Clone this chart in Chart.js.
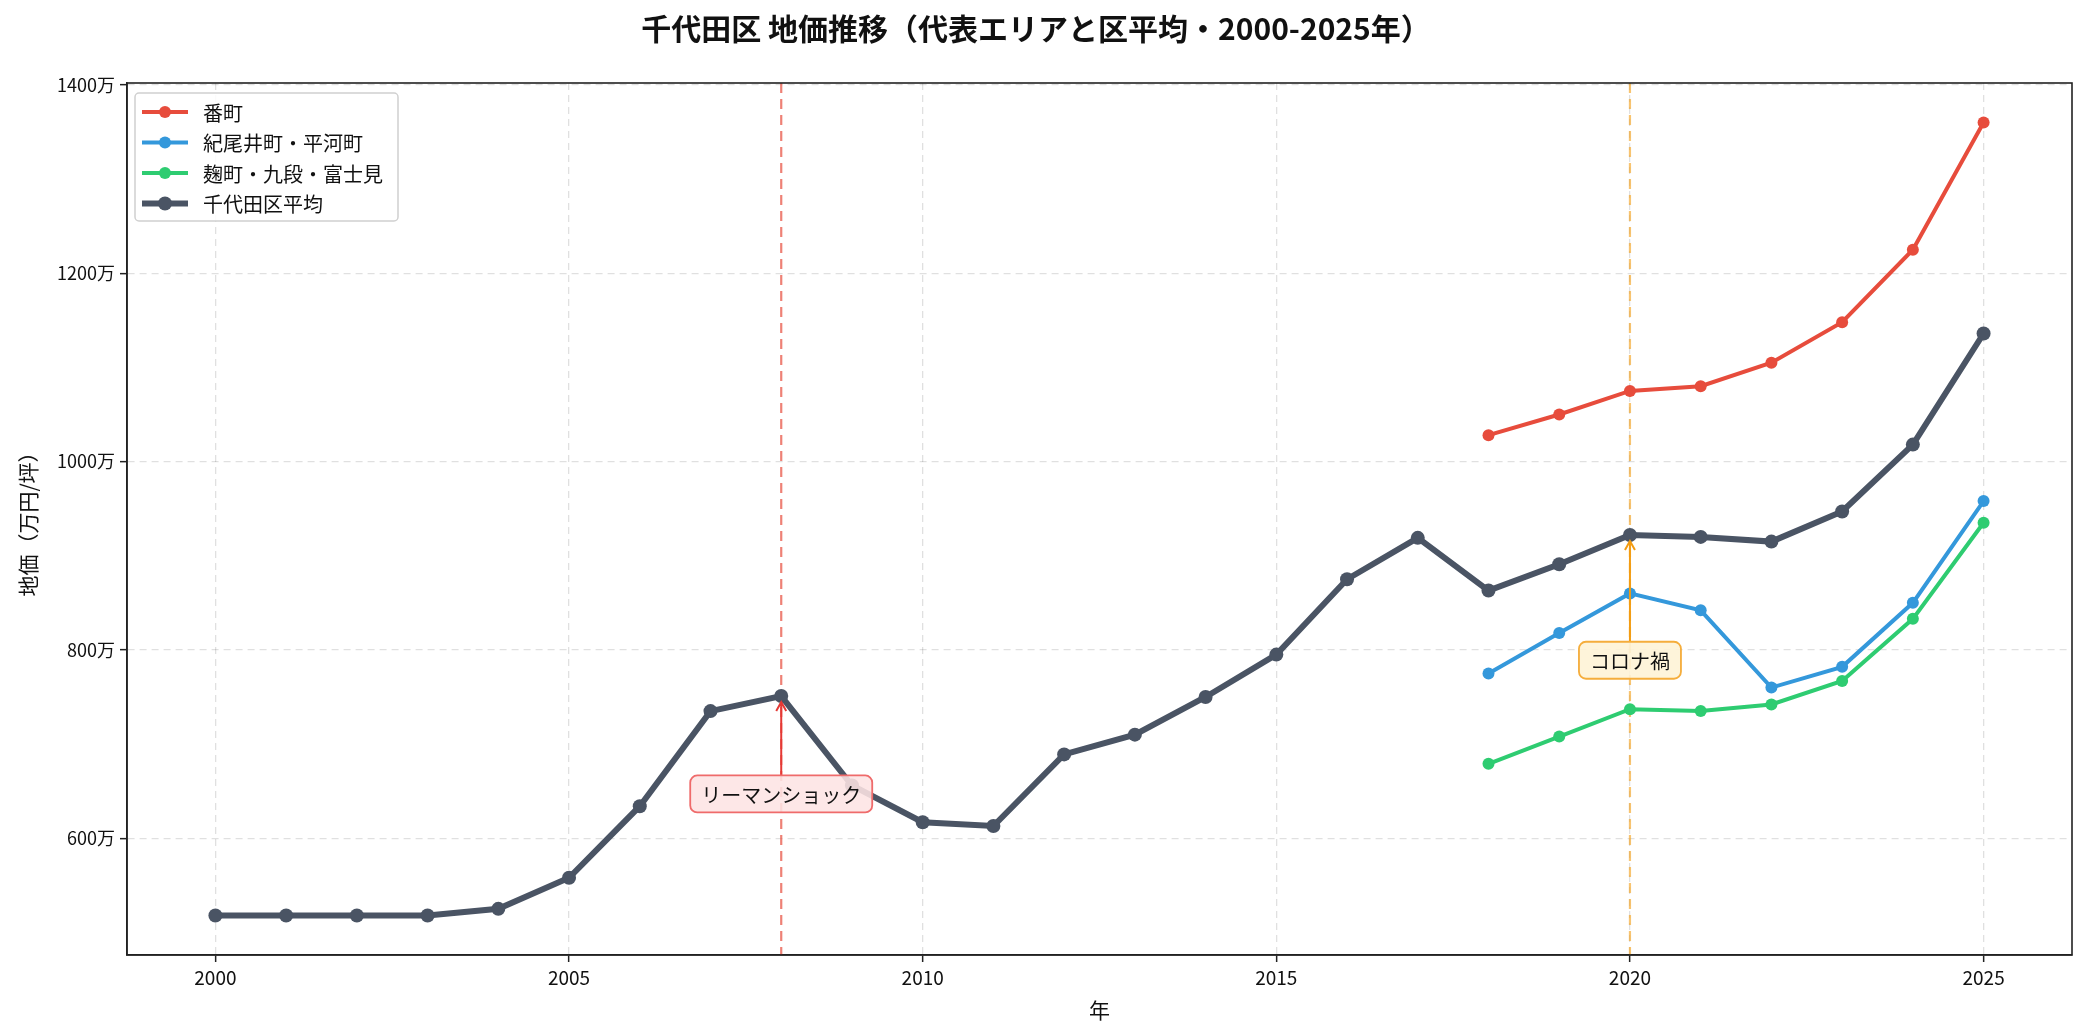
<!DOCTYPE html>
<html>
<head>
<meta charset="utf-8">
<title>千代田区 地価推移</title>
<script src="https://cdn.jsdelivr.net/npm/chart.js@4.4.1/dist/chart.umd.min.js"></script>
<style>
  html, body { margin: 0; padding: 0; background: #fff; }
  #wrap { width: 2085px; height: 1035px; }
</style>
</head>
<body>
<div id="wrap"><canvas id="myChart" width="2085" height="1035"></canvas></div>
<script>
// data
const avgYears = [2000, 2001, 2002, 2003, 2004, 2005, 2006, 2007, 2008, 2009, 2010, 2011, 2012,
                  2013, 2014, 2015, 2016, 2017, 2018, 2019, 2020, 2021, 2022, 2023, 2024, 2025];
const avgValues = [518, 518, 518, 518, 525, 558, 634, 735, 751, 656, 617, 613, 689,
                   710, 750, 795, 875, 919, 863, 891, 922, 920, 915, 947, 1018, 1136];
const areaYears = [2018, 2019, 2020, 2021, 2022, 2023, 2024, 2025];
const banchoValues = [1028, 1050, 1075, 1080, 1105, 1148, 1225, 1360];
const kioiValues = [775, 818, 860, 842, 760, 782, 850, 958];
const kojiValues = [679, 708, 737, 735, 742, 767, 833, 935];
const seriesLabels = ["番町", "紀尾井町・平河町", "麹町・九段・富士見", "千代田区平均"];

const xTicks = [2000, 2005, 2010, 2015, 2020, 2025];
const yTicks = [600, 800, 1000, 1200, 1400];

// event markers (vertical line + annotation)
const eventLabels = ["リーマンショック", "コロナ禍"];
const eventYears = [2008, 2020];
const eventTargets = [751, 922];     // value the arrow points at
const eventTextValues = [647, 789];  // where the label sits

const FONT = "'Noto Sans CJK JP', 'Noto Sans', sans-serif";

function init() {
    const canvas = document.getElementById("myChart");

    const colors = ["#e74c3c", "#3498db", "#2ecc71", "#4a5464"];
    const eventColors = [
        { line: "rgba(231,76,60,0.7)", arrow: "#e53935", fill: "rgba(253,228,228,0.88)", border: "#ef6b6b" },
        { line: "rgba(243,156,18,0.6)", arrow: "#f39c12", fill: "rgba(254,243,214,0.9)", border: "#f5ad3b" }
    ];

    const toPoints = (xs, ys) => xs.map((x, i) => ({ x: x, y: ys[i] }));

    // vertical dashed event lines under the data
    const eventLines = {
        id: "eventLines",
        beforeDatasetsDraw(chart) {
            const { ctx, chartArea, scales } = chart;
            ctx.save();
            eventYears.forEach((yr, i) => {
                const px = scales.x.getPixelForValue(yr);
                ctx.strokeStyle = eventColors[i].line;
                ctx.lineWidth = 2.2;
                ctx.setLineDash([10, 6]);
                ctx.beginPath();
                ctx.moveTo(px, chartArea.top);
                ctx.lineTo(px, chartArea.bottom);
                ctx.stroke();
            });
            ctx.restore();
        }
    };

    // annotation boxes, arrows, frame and legend on top
    const overlay = {
        id: "overlay",
        afterDraw(chart) {
            const { ctx, chartArea, scales } = chart;
            ctx.save();

            // arrows + boxes
            eventLabels.forEach((label, i) => {
                const px = scales.x.getPixelForValue(eventYears[i]);
                const ty = scales.y.getPixelForValue(eventTextValues[i]);
                const py = scales.y.getPixelForValue(eventTargets[i]) + 6;
                ctx.font = "20px " + FONT;
                const tw = ctx.measureText(label).width;
                const bw = tw + 22, bh = 37;
                const bx = px - bw / 2, by = ty - bh / 2;

                ctx.strokeStyle = eventColors[i].arrow;
                ctx.lineWidth = 2;
                ctx.setLineDash([]);
                ctx.beginPath();
                ctx.moveTo(px, by);
                ctx.lineTo(px, py);
                ctx.moveTo(px - 5, py + 9);
                ctx.lineTo(px, py);
                ctx.lineTo(px + 5, py + 9);
                ctx.stroke();

                ctx.fillStyle = eventColors[i].fill;
                ctx.strokeStyle = eventColors[i].border;
                ctx.lineWidth = 1.8;
                ctx.beginPath();
                ctx.roundRect(bx, by, bw, bh, 7);
                ctx.fill();
                ctx.stroke();

                ctx.fillStyle = "#111";
                ctx.textAlign = "center";
                ctx.textBaseline = "middle";
                ctx.fillText(label, px, ty + 1);
            });

            // full frame around the plot
            ctx.strokeStyle = "#222";
            ctx.lineWidth = 1.6;
            ctx.strokeRect(chartArea.left, chartArea.top,
                           chartArea.right - chartArea.left, chartArea.bottom - chartArea.top);

            // legend in the upper-left corner
            const lx = chartArea.left + 8, ly = chartArea.top + 10;
            const rowH = 30.5;
            ctx.fillStyle = "rgba(255,255,255,0.85)";
            ctx.strokeStyle = "#d0d0d0";
            ctx.lineWidth = 1.5;
            ctx.beginPath();
            ctx.roundRect(lx, ly, 263, 128, 4);
            ctx.fill();
            ctx.stroke();
            chart.data.datasets.forEach((ds, i) => {
                const cy = ly + 19 + i * rowH;
                ctx.strokeStyle = ds.borderColor;
                ctx.lineWidth = ds.borderWidth;
                ctx.beginPath();
                ctx.moveTo(lx + 7, cy);
                ctx.lineTo(lx + 53, cy);
                ctx.stroke();
                ctx.fillStyle = ds.borderColor;
                ctx.beginPath();
                ctx.arc(lx + 30, cy, ds.pointRadius, 0, Math.PI * 2);
                ctx.fill();
                ctx.fillStyle = "#111";
                ctx.font = "20px " + FONT;
                ctx.textAlign = "left";
                ctx.textBaseline = "middle";
                ctx.fillText(ds.label, lx + 68, cy + 1);
            });
            ctx.restore();
        }
    };

    const gridStyle = {
        color: "rgba(0,0,0,0.12)",
        lineWidth: 1.3,
        drawTicks: true,
        tickLength: 7,
        tickColor: "#222",
        tickWidth: 1.5,
        tickBorderDash: [],
        tickBorderDashOffset: 0
    };
    const borderStyle = { display: true, color: "#222", width: 1.6, dash: [7, 5] };

    new Chart(canvas, {
        type: "line",
        data: {
            datasets: [
                { label: seriesLabels[0], data: toPoints(areaYears, banchoValues) },
                { label: seriesLabels[1], data: toPoints(areaYears, kioiValues) },
                { label: seriesLabels[2], data: toPoints(areaYears, kojiValues) },
                { label: seriesLabels[3], data: toPoints(avgYears, avgValues) }
            ].map((ds, i) => Object.assign(ds, {
                borderColor: colors[i],
                backgroundColor: colors[i],
                pointBackgroundColor: colors[i],
                pointBorderWidth: 0,
                borderWidth: i === 3 ? 6 : 4,
                pointRadius: i === 3 ? 7 : 6,
                tension: 0,
                fill: false
            }))
        },
        options: {
            responsive: false,
            animation: false,
            devicePixelRatio: 1,
            layout: { padding: { left: 0, right: 13, top: 0, bottom: 0 } },
            plugins: {
                legend: { display: false },
                tooltip: { enabled: false },
                title: {
                    display: true,
                    text: "千代田区 地価推移（代表エリアと区平均・2000-2025年）",
                    color: "#111",
                    font: { family: FONT, size: 30, weight: "bold" },
                    padding: { top: 11, bottom: 36 }
                }
            },
            scales: {
                x: {
                    type: "linear",
                    min: 1998.75,
                    max: 2026.25,
                    afterBuildTicks: scale => { scale.ticks = xTicks.map(v => ({ value: v })); },
                    afterFit: scale => { scale.height = 80; },
                    grid: gridStyle,
                    border: borderStyle,
                    ticks: {
                        color: "#111",
                        font: { family: FONT, size: 19 },
                        padding: 4,
                        maxRotation: 0,
                        callback: v => String(v)
                    },
                    title: {
                        display: true,
                        text: "年",
                        color: "#111",
                        font: { family: FONT, size: 21 },
                        padding: { top: 4, bottom: 12 }
                    }
                },
                y: {
                    type: "linear",
                    min: 476,
                    max: 1402,
                    afterBuildTicks: scale => { scale.ticks = yTicks.map(v => ({ value: v })); },
                    afterFit: scale => { scale.width = 127; },
                    grid: gridStyle,
                    border: borderStyle,
                    ticks: {
                        color: "#111",
                        font: { family: FONT, size: 18 },
                        padding: 5,
                        callback: v => v + "万"
                    },
                    title: {
                        display: true,
                        text: "地価（万円/坪）",
                        color: "#111",
                        font: { family: FONT, size: 21 },
                        padding: { top: 15, bottom: 0 }
                    }
                }
            }
        },
        plugins: [eventLines, overlay]
    });
}

document.addEventListener("DOMContentLoaded", init);
</script>
</body>
</html>
